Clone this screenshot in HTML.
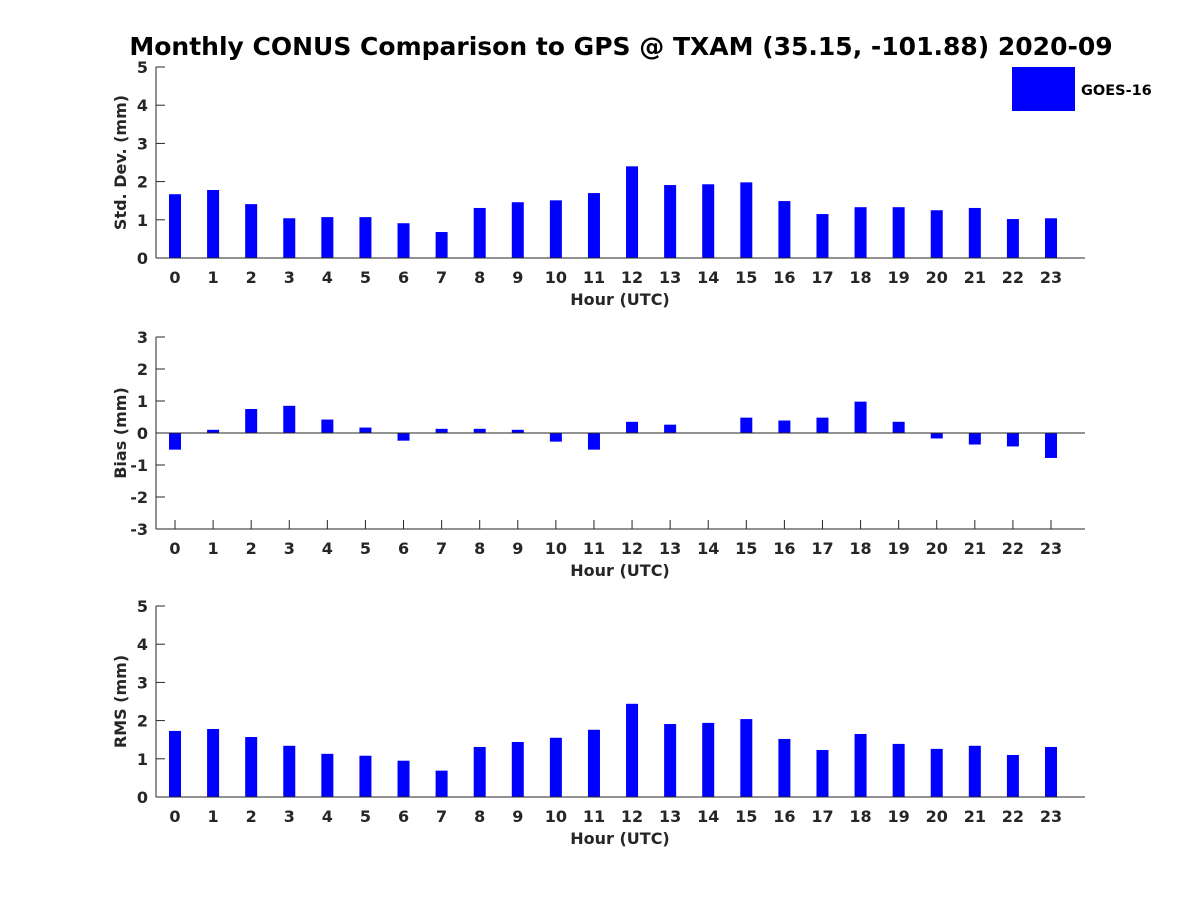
<!DOCTYPE html>
<html><head><meta charset="utf-8"><style>
body{margin:0;background:#fff}
svg{display:block;font-family:"DejaVu Sans","Liberation Sans",sans-serif}
</style></head><body>
<svg id="c" width="1200" height="900">
<text x="621" y="55" text-anchor="middle" font-size="25" font-weight="bold" fill="#000">Monthly CONUS Comparison to GPS @ TXAM (35.15, -101.88) 2020-09</text>
<g>
<rect x="1012" y="67" width="63" height="44" fill="#0000ff"/>
<text x="1081" y="95" font-size="14.5" font-weight="bold" fill="#000">GOES-16</text>
</g>
</svg>
<script>
const hours = [0,1,2,3,4,5,6,7,8,9,10,11,12,13,14,15,16,17,18,19,20,21,22,23];
const stdDev = [1.67,1.78,1.41,1.04,1.07,1.07,0.91,0.68,1.31,1.46,1.51,1.70,2.40,1.91,1.93,1.98,1.49,1.15,1.33,1.33,1.25,1.31,1.02,1.04];
const bias = [-0.52,0.10,0.75,0.85,0.42,0.17,-0.24,0.13,0.13,0.10,-0.27,-0.52,0.35,0.26,0.0,0.48,0.39,0.48,0.98,0.35,-0.17,-0.36,-0.42,-0.78];
const rms = [1.73,1.78,1.57,1.34,1.13,1.08,0.95,0.69,1.31,1.44,1.55,1.76,2.44,1.91,1.94,2.04,1.52,1.23,1.65,1.39,1.26,1.34,1.10,1.31];
const stdTicks = [0,1,2,3,4,5];
const biasTicks = [-3,-2,-1,0,1,2,3];
const rmsTicks = [0,1,2,3,4,5];

const NS='http://www.w3.org/2000/svg';
const svg=document.getElementById('c');
function mk(tag,attrs,parent){const e=document.createElementNS(NS,tag);for(const k in attrs)e.setAttribute(k,attrs[k]);(parent||svg).appendChild(e);return e;}

function panel(key,vals,ticks,top,bottom,ylabel){
  const x0=156,x1=1085;
  const ymin=ticks[0],ymax=ticks[ticks.length-1];
  const y=v=>bottom-(v-ymin)/(ymax-ymin)*(bottom-top);
  const x=h=>175+h*(1051-175)/23;
  const g=mk('g',{});
  
  
  hours.forEach(h=>{
    mk('line',{x1:x(h),x2:x(h),y1:bottom,y2:bottom-9,stroke:'#262626'},g);
    const tx=mk('text',{x:x(h),y:bottom+25,'text-anchor':'middle','font-size':16,'font-weight':'bold',fill:'#262626'},g);
    tx.textContent=h;
    
    
  });
  vals.forEach((v,i)=>{
    const y0=y(0),yv=y(v);
    const r=mk('rect',{x:x(hours[i])-6,y:Math.min(y0,yv),width:12,height:Math.max(Math.abs(y0-yv),0.001),fill:'#0000ff'},g);
    
    
  });
  const xa=mk('line',{x1:x0,x2:x1,y1:y(Math.max(0,ymin)),y2:y(Math.max(0,ymin)),stroke:'#262626','stroke-width':1},g);
  
  
  if(ymin<0){
    const bl=mk('line',{x1:x0,x2:x1,y1:bottom,y2:bottom,stroke:'#262626','stroke-width':1},g);
    
    
  }
  const ya=mk('line',{x1:x0,x2:x0,y1:top,y2:bottom,stroke:'#262626','stroke-width':1},g);
  
  
  ticks.forEach(t=>{
    mk('line',{x1:x0,x2:x0+9,y1:y(t),y2:y(t),stroke:'#262626'},g);
    const tx=mk('text',{x:x0-8,y:y(t)+6,'text-anchor':'end','font-size':16,'font-weight':'bold',fill:'#262626'},g);
    tx.textContent=t;
    
    
  });
  const xt=mk('text',{x:620,y:bottom+47,'text-anchor':'middle','font-size':16,'font-weight':'bold',fill:'#262626'},g);
  xt.textContent='Hour (UTC)';
  
  
  const cy=(top+bottom)/2;
  const yt=mk('text',{x:126,y:cy,'text-anchor':'middle','font-size':16,'font-weight':'bold',fill:'#262626',transform:'rotate(-90 126 '+cy+')'},g);
  yt.textContent=ylabel;
  
  
}
panel('std-dev',stdDev,stdTicks,67,258,'Std. Dev. (mm)');
panel('bias',bias,biasTicks,337,529,'Bias (mm)');
panel('rms',rms,rmsTicks,606,797,'RMS (mm)');
</script>
</body></html>
